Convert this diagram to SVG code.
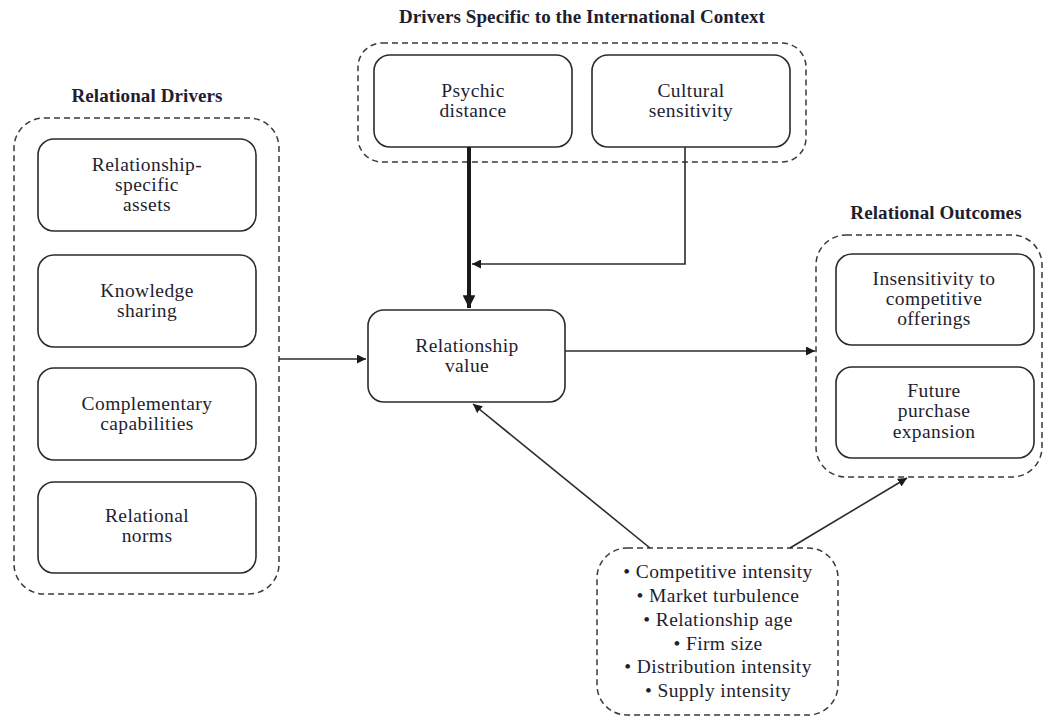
<svg xmlns="http://www.w3.org/2000/svg" width="1047" height="717" viewBox="0 0 1047 717">
  <style>
    .bg { fill: #ffffff; }
    .box { fill: #ffffff; stroke: #2b2b2b; stroke-width: 1.6; }
    .grp { fill: none; stroke: #3a3a3a; stroke-width: 1.5; stroke-dasharray: 6 4; }
    .lbl { font-family: "Liberation Serif", "Times New Roman", serif; font-size: 19.5px; letter-spacing: 0.4px; fill: #1e1e30; text-anchor: middle; }
    .ttl { font-family: "Liberation Serif", "Times New Roman", serif; font-size: 19px; font-weight: bold; letter-spacing: 0.1px; fill: #1e1e30; text-anchor: middle; }
    .ln { fill: none; stroke: #2b2b2b; stroke-width: 1.6; }
    .thick { fill: none; stroke: #1a1a1a; stroke-width: 4; }
  </style>
  <defs>
    <marker id="arr" viewBox="0 0 10 10" refX="10" refY="5" markerWidth="9" markerHeight="9" markerUnits="userSpaceOnUse" orient="auto">
      <path d="M0,0 L10,5 L0,10 z" fill="#1a1a1a"/>
    </marker>
    <marker id="arrBig" viewBox="0 0 10 10" refX="10" refY="5" markerWidth="3.2" markerHeight="3.2" orient="auto">
      <path d="M0,0 L10,5 L0,10 z" fill="#1a1a1a"/>
    </marker>
  </defs>
  <rect class="bg" x="0" y="0" width="1047" height="717"/>

  <!-- Context drivers -->
  <g id="context-drivers">
    <text class="ttl" x="582" y="23">Drivers Specific to the International Context</text>
    <rect class="grp" x="358" y="43" width="448" height="119" rx="24"/>
    <g id="psychic-distance">
      <rect class="box" x="374" y="55" width="198" height="92" rx="16"/>
      <text class="lbl" x="473" y="97">Psychic</text>
      <text class="lbl" x="473" y="117">distance</text>
    </g>
    <g id="cultural-sensitivity">
      <rect class="box" x="592" y="55" width="198" height="92" rx="16"/>
      <text class="lbl" x="691" y="97">Cultural</text>
      <text class="lbl" x="691" y="117">sensitivity</text>
    </g>
  </g>

  <!-- Relational drivers -->
  <g id="relational-drivers">
    <text class="ttl" x="147" y="102">Relational Drivers</text>
    <rect class="grp" x="14" y="118" width="265" height="476" rx="30"/>
    <g id="rs-assets">
      <rect class="box" x="38" y="139" width="218" height="92" rx="16"/>
      <text class="lbl" x="147" y="171">Relationship-</text>
      <text class="lbl" x="147" y="191">specific</text>
      <text class="lbl" x="147" y="211">assets</text>
    </g>
    <g id="knowledge-sharing">
      <rect class="box" x="38" y="255" width="218" height="92" rx="16"/>
      <text class="lbl" x="147" y="297">Knowledge</text>
      <text class="lbl" x="147" y="317">sharing</text>
    </g>
    <g id="complementary-capabilities">
      <rect class="box" x="38" y="368" width="218" height="92" rx="16"/>
      <text class="lbl" x="147" y="410">Complementary</text>
      <text class="lbl" x="147" y="430">capabilities</text>
    </g>
    <g id="relational-norms">
      <rect class="box" x="38" y="482" width="218" height="91" rx="16"/>
      <text class="lbl" x="147" y="522">Relational</text>
      <text class="lbl" x="147" y="542">norms</text>
    </g>
  </g>

  <!-- Central construct -->
  <g id="relationship-value">
    <rect class="box" x="368" y="310" width="197" height="92" rx="16"/>
    <text class="lbl" x="467" y="352">Relationship</text>
    <text class="lbl" x="467" y="372">value</text>
  </g>

  <!-- Outcomes -->
  <g id="relational-outcomes">
    <text class="ttl" x="936" y="219">Relational Outcomes</text>
    <rect class="grp" x="816" y="235" width="226" height="242" rx="30"/>
    <g id="insensitivity">
      <rect class="box" x="836" y="254" width="198" height="91" rx="16"/>
      <text class="lbl" x="934" y="285">Insensitivity to</text>
      <text class="lbl" x="934" y="305">competitive</text>
      <text class="lbl" x="934" y="325">offerings</text>
    </g>
    <g id="future-purchase">
      <rect class="box" x="836" y="367" width="198" height="91" rx="16"/>
      <text class="lbl" x="934" y="397">Future</text>
      <text class="lbl" x="934" y="417">purchase</text>
      <text class="lbl" x="934" y="438">expansion</text>
    </g>
  </g>

  <!-- Control variables -->
  <g id="controls">
    <rect class="grp" x="597" y="548" width="241" height="167" rx="30"/>
    <text class="lbl" x="718" y="578">• Competitive intensity</text>
    <text class="lbl" x="718" y="602">• Market turbulence</text>
    <text class="lbl" x="718" y="626">• Relationship age</text>
    <text class="lbl" x="718" y="650">• Firm size</text>
    <text class="lbl" x="718" y="673">• Distribution intensity</text>
    <text class="lbl" x="718" y="697">• Supply intensity</text>
  </g>

  <!-- Connectors -->
  <g id="connectors">
    <line class="thick" x1="469" y1="147" x2="469" y2="308" marker-end="url(#arrBig)"/>
    <polyline class="ln" points="685,147 685,264 472,264" marker-end="url(#arr)"/>
    <line class="ln" x1="279" y1="359" x2="366" y2="359" marker-end="url(#arr)"/>
    <line class="ln" x1="565" y1="351" x2="815" y2="351" marker-end="url(#arr)"/>
    <line class="ln" x1="650" y1="548" x2="473" y2="404" marker-end="url(#arr)"/>
    <line class="ln" x1="790" y1="548" x2="907" y2="478" marker-end="url(#arr)"/>
  </g>
</svg>
